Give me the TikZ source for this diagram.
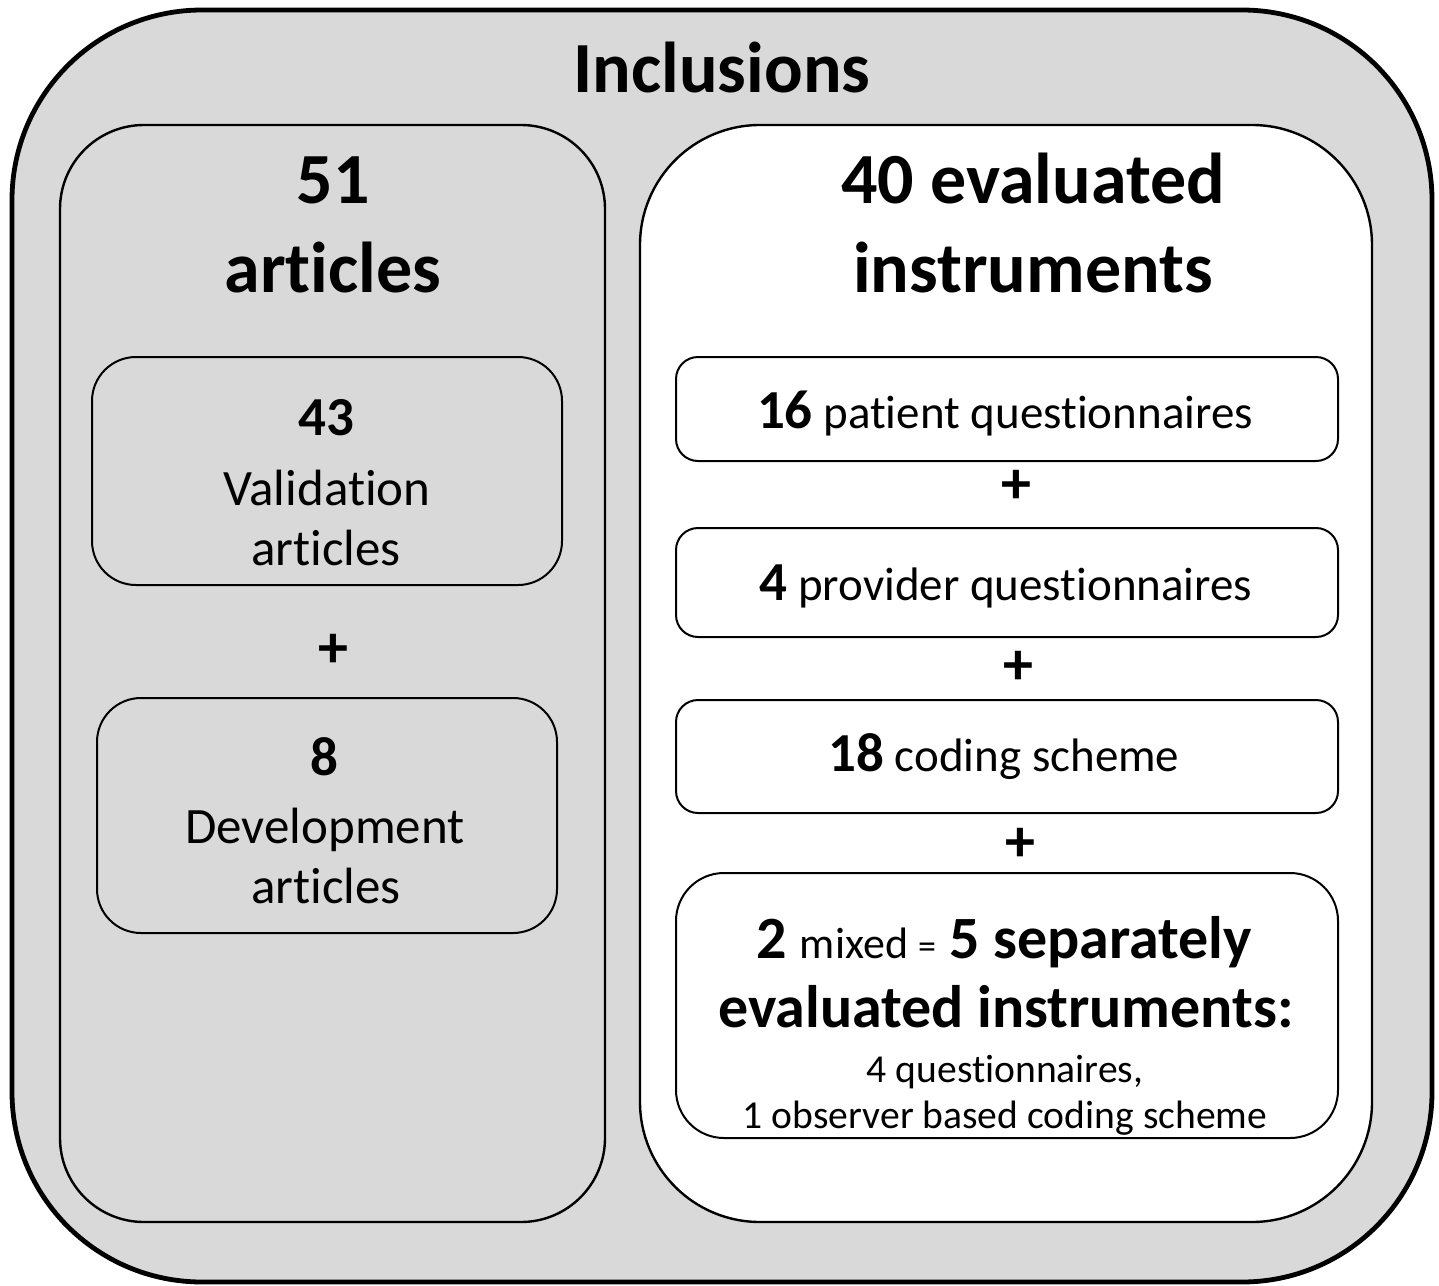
\documentclass[tikz,border=0pt]{standalone}
\usepackage{fontspec}
\setmainfont[Ligatures=NoCommon]{Carlito}
\definecolor{boxgray}{HTML}{D9D9D9}
\newcommand{\countnum}[1]{{\fontsize{27.5}{30}\selectfont\bfseries #1}}

\begin{document}
\begin{tikzpicture}[x=0.5pt, y=-0.5pt,
    outerbox/.style={draw, line width=2.4pt, fill=boxgray, rounded corners=95pt, inner sep=0pt},
    groupbox/.style={draw, line width=1.2pt, rounded corners=42pt, inner sep=0pt},
    itembox/.style={draw, line width=1pt, rounded corners=11pt, fill=white, minimum width=331pt, inner sep=0pt},
    headtext/.style={anchor=base, inner sep=0pt, font=\fontsize{36}{40}\selectfont\bfseries},
    subtext/.style={anchor=base, inner sep=0pt, font=\fontsize{25.5}{28}\selectfont},
    plussign/.style={inner sep=0pt, font=\fontsize{30}{32}\selectfont\bfseries}]
    \useasboundingbox (0,0) rectangle (1439,1285);

    % boxes
    \node (outer) at (722,646) [outerbox, minimum width=710pt, minimum height=636pt] {};
    \node (artgroup) at (332.5,673.5) [groupbox, fill=boxgray, minimum width=272.5pt, minimum height=548.5pt] {};
    \node (insgroup) at (1006,673.5) [groupbox, fill=white, rounded corners=60pt, minimum width=366pt, minimum height=548.5pt] {};

    \node (valbox) at (327,471) [itembox, fill=boxgray, rounded corners=22pt, minimum width=235pt, minimum height=114pt] {};
    \node (devbox) at (327,815.5) [itembox, fill=boxgray, rounded corners=22pt, minimum width=230pt, minimum height=117.5pt] {};

    \node (patbox) at (1007,409) [itembox, minimum height=52pt] {};
    \node (probox) at (1007,582.5) [itembox, minimum height=54.5pt] {};
    \node (codbox) at (1007,756.5) [itembox, minimum height=56.5pt] {};
    \node (mixbox) at (1007,1005.5) [itembox, rounded corners=24pt, minimum height=132.5pt] {};

    % headings
    \node (title) at (722,92) [headtext] {Inclusions};
    \node (artnum) at (333,203) [headtext] {51};
    \node (artlabel) at (333,292) [headtext] {articles};
    \node (insnum) at (1033,203) [headtext] {40 evaluated};
    \node (inslabel) at (1033,292) [headtext] {instruments};

    % left column
    \node (valnum) at (326,435) [anchor=base, inner sep=0pt] {\countnum{43}};
    \node (vallabel) at (327,505) [subtext] {Validation};
    \node (valart) at (326,565) [subtext] {articles};
    \node (devnum) at (324,775) [anchor=base, inner sep=0pt] {\countnum{8}};
    \node (devlabel) at (325,843) [subtext] {Development};
    \node (devart) at (326,903) [subtext] {articles};
    \node (plusl) at (333,651) [plussign] {+};

    % right column
    \node (pattext) at (1005,428) [anchor=base, inner sep=0pt, font=\fontsize{23.5}{26}\selectfont] {\countnum{16} patient questionnaires};
    \node (protext) at (1006,600) [anchor=base, inner sep=0pt, font=\fontsize{23.5}{26}\selectfont] {\countnum{4} provider questionnaires};
    \node (codtext) at (1004,771) [anchor=base, inner sep=0pt, font=\fontsize{23.5}{26}\selectfont] {\countnum{18} coding scheme};
    \node (mixline1) at (1004,958) [anchor=base, inner sep=0pt, font=\fontsize{30}{32}\selectfont\bfseries]
        {2 {\mdseries\fontsize{22}{24}\selectfont mixed {\fontsize{18}{20}\selectfont =}} 5 separately};
    \node (mixline2) at (1006,1027) [anchor=base, inner sep=0pt, font=\fontsize{30}{32}\selectfont\bfseries] {evaluated instruments:};
    \node (mixline3) at (1005,1082) [anchor=base, inner sep=0pt, font=\fontsize{19.8}{22}\selectfont] {4 questionnaires,};
    \node (mixline4) at (1005,1128) [anchor=base, inner sep=0pt, font=\fontsize{19.8}{22}\selectfont] {1 observer based coding scheme};

    \node (plusr1) at (1016,487) [plussign] {+};
    \node (plusr2) at (1018,668) [plussign] {+};
    \node (plusr3) at (1020,845) [plussign] {+};
\end{tikzpicture}
\end{document}
